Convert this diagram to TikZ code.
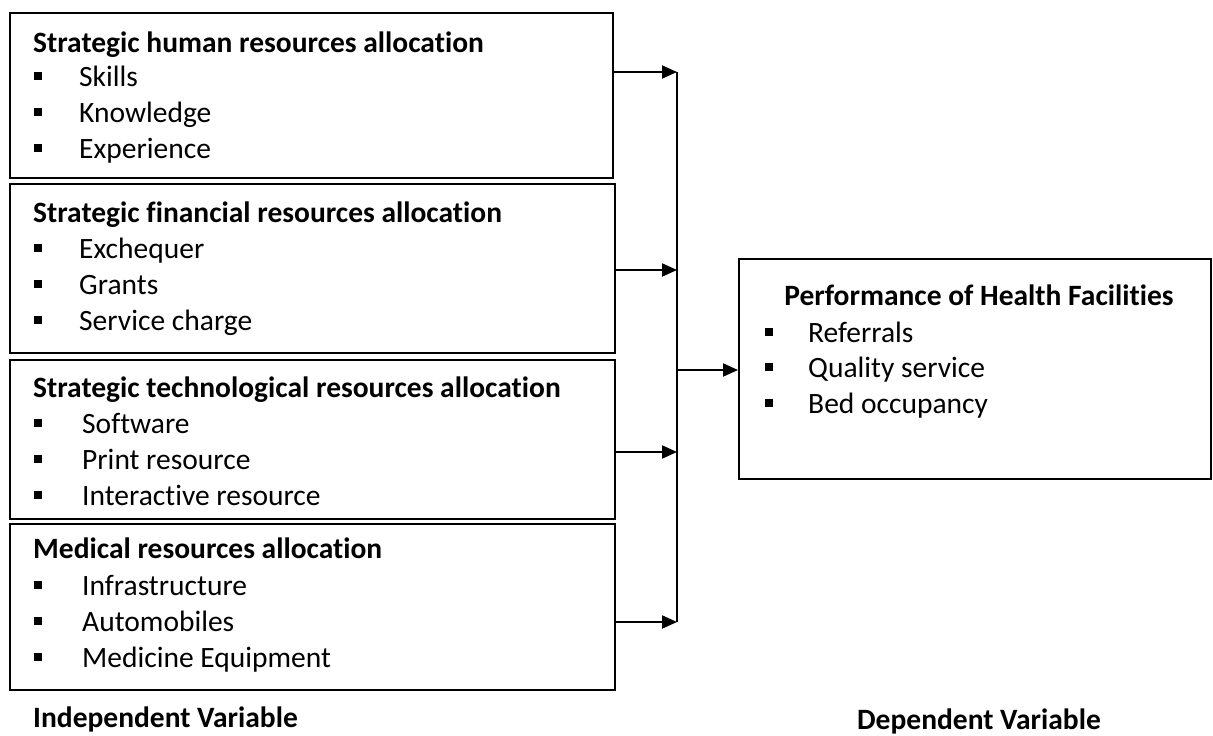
\documentclass[tikz,border=0pt]{standalone}
\usepackage{fontspec}
\setmainfont{Carlito}[Ligatures={NoCommon}]
\usetikzlibrary{arrows.meta}

\tikzset{
  box/.style={draw, line width=2.2pt, anchor=north west, inner sep=0pt},
  head/.style={anchor=base west, inner sep=0pt, font=\fontsize{29.5}{34}\selectfont\bfseries},
  entry/.style={anchor=base west, inner sep=0pt, font=\fontsize{29.5}{34}\selectfont},
  sq/.style={fill, minimum size=8pt, inner sep=0pt, yshift=10pt},
  feed/.style={line width=2pt, -{Triangle[length=15pt,width=13pt]}}
}

\begin{document}
\begin{tikzpicture}[x=1pt, y=-1pt]
      \useasboundingbox (0,0) rectangle (1213,736);
      % independent variables
      \node (hum) at (9,12) [box, minimum width=603pt, minimum height=165pt] {};
      \node (humT) at (33,52) [head] {Strategic human resources allocation};
      \node (humA) at (38,86) [sq] {};
      \node (humAt) at (79,86) [entry] {Skills};
      \node (humB) at (38,122) [sq] {};
      \node (humBt) at (79,122) [entry] {Knowledge};
      \node (humC) at (38,158) [sq] {};
      \node (humCt) at (79,158) [entry] {Experience};

      \node (fin) at (9,183) [box, minimum width=605pt, minimum height=169pt] {};
      \node (finT) at (33,222) [head] {Strategic financial resources allocation};
      \node (finA) at (38,258) [sq] {};
      \node (finAt) at (79,258) [entry] {Exchequer};
      \node (finB) at (38,294) [sq] {};
      \node (finBt) at (79,294) [entry] {Grants};
      \node (finC) at (38,330) [sq] {};
      \node (finCt) at (79,330) [entry] {Service charge};

      \node (tec) at (9,359) [box, minimum width=605pt, minimum height=159pt] {};
      \node (tecT) at (33,397) [head] {Strategic technological resources allocation};
      \node (tecA) at (38,433) [sq] {};
      \node (tecAt) at (82,433) [entry] {Software};
      \node (tecB) at (38,469) [sq] {};
      \node (tecBt) at (82,469) [entry] {Print resource};
      \node (tecC) at (38,505) [sq] {};
      \node (tecCt) at (82,505) [entry] {Interactive resource};

      \node (med) at (9,523) [box, minimum width=605pt, minimum height=166pt] {};
      \node (medT) at (33,558) [head] {Medical resources allocation};
      \node (medA) at (38,595) [sq] {};
      \node (medAt) at (82,595) [entry] {Infrastructure};
      \node (medB) at (38,631) [sq] {};
      \node (medBt) at (82,631) [entry] {Automobiles};
      \node (medC) at (38,667) [sq] {};
      \node (medCt) at (82,667) [entry] {Medicine Equipment};

      \node (indep) at (33,727) [head] {Independent Variable};

      % dependent variable
      \node (perf) at (738,258) [box, minimum width=472pt, minimum height=220pt] {};
      \node (perfT) at (979,305) [head, anchor=base] {Performance of Health Facilities};
      \node (perfA) at (769,342) [sq] {};
      \node (perfAt) at (808,342) [entry] {Referrals};
      \node (perfB) at (769,377) [sq] {};
      \node (perfBt) at (808,377) [entry] {Quality service};
      \node (perfC) at (769,413) [sq] {};
      \node (perfCt) at (808,413) [entry] {Bed occupancy};

      \node (dep) at (979,729) [head, anchor=base] {Dependent Variable};

      % collecting line
      \coordinate (b1) at (677,72);
      \coordinate (b2) at (677,270);
      \coordinate (b3) at (677,452);
      \coordinate (b4) at (677,622);
      \coordinate (bm) at (677,370);
      \draw[line width=1.3pt] (b1) -- (b4);
      \draw[feed] (hum.east |- b1) -- (b1);
      \draw[feed] (fin.east |- b2) -- (b2);
      \draw[feed] (tec.east |- b3) -- (b3);
      \draw[feed] (med.east |- b4) -- (b4);
      \draw[feed] (bm) -- (perf.west |- bm);
    \end{tikzpicture}
\end{document}
